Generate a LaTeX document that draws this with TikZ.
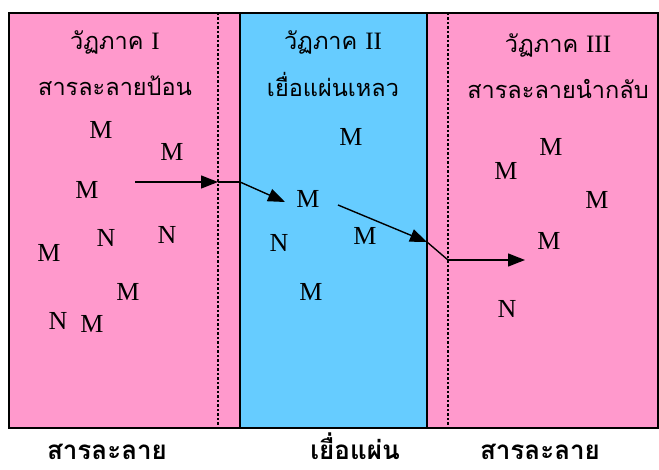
\documentclass[tikz,border=0pt]{standalone}
\usepackage{fontspec}
\setmainfont{Liberation Serif}
\newfontfamily\thaifont[Script=Thai]{Loma}
\newfontfamily\romanfont{Liberation Serif}
\usetikzlibrary{arrows.meta}
\definecolor{pinkfill}{HTML}{FF99CC}
\definecolor{bluefill}{HTML}{66CCFF}
\begin{document}
\begin{tikzpicture}[x=1pt,y=-1pt,
  letter/.style={font=\fontsize{26}{26}\selectfont, inner sep=0pt},
  title/.style={font=\thaifont\fontsize{23.5}{24}\selectfont, inner sep=0pt},
  bottom/.style={font=\thaifont\bfseries\fontsize{26}{28}\selectfont, inner sep=0pt, anchor=base},
  flow/.style={line width=1.4pt, -{Triangle[length=17pt,width=13pt]}},
  seg/.style={line width=1.4pt},
  divider/.style={line width=1.5pt},
  dots/.style={line width=1.4pt, dash pattern=on 2.5pt off 2pt}]
\useasboundingbox (0,0) rectangle (659,470);
\fill[pinkfill] (9,13) rectangle (658,428);
\fill[bluefill] (240,13) rectangle (427,428);
\draw[divider] (240,13) -- (240,428);
\draw[divider] (427,13) -- (427,428);
\draw[dots] (218,13) -- (218,428);
\draw[dots] (448,13) -- (448,428);
\draw[line width=1.5pt] (9,13) rectangle (658,428);
% titles
\node[title] (t1a) at (115,42) {วัฏภาค {\romanfont\fontsize{25}{25}\selectfont I}};
\node[title] (t1b) at (115,86) {สารละลายป้อน};
\node[title] (t2a) at (333,42) {วัฏภาค {\romanfont\fontsize{25}{25}\selectfont II}};
\node[title] (t2b) at (333,84) {เยื่อแผ่นเหลว};
\node[title] (t3a) at (558,45) {วัฏภาค {\romanfont\fontsize{25}{25}\selectfont III}};
\node[title] (t3b) at (558,89) {สารละลายนำกลับ};
% letters phase I
\node[letter] (a1) at (101,130) {M};
\node[letter] (a2) at (172,152) {M};
\node[letter] (a3) at (87,190) {M};
\node[letter] (a4) at (106,238) {N};
\node[letter] (a5) at (167,235) {N};
\node[letter] (a6) at (49,253) {M};
\node[letter] (a7) at (128,292) {M};
\node[letter] (a8) at (58,321) {N};
\node[letter] (a9) at (92,324) {M};
% phase II
\node[letter] (b1) at (351,137) {M};
\node[letter] (b2) at (308,199) {M};
\node[letter] (b3) at (279,243) {N};
\node[letter] (b4) at (365,236) {M};
\node[letter] (b5) at (311,292) {M};
% phase III
\node[letter] (c1) at (551,147) {M};
\node[letter] (c2) at (506,171) {M};
\node[letter] (c3) at (597,200) {M};
\node[letter] (c4) at (549,241) {M};
\node[letter] (c5) at (507,309) {N};
% path
\coordinate (p0) at (135,182);
\coordinate (p1) at (218,182);
\coordinate (p2) at (240,182);
\coordinate (p3) at (285,202);
\coordinate (p4) at (338,205);
\coordinate (p5) at (427,242);
\coordinate (p6) at (448,260);
\coordinate (p7) at (525,260);
\draw[flow] (p0) -- (p1);
\draw[seg] (p1) -- (p2);
\draw[flow] (p2) -- (p3);
\draw[flow] (p4) -- (p5);
\draw[seg] (p5) -- (p6);
\draw[flow] (p6) -- (p7);
% bottom labels
\node[bottom] (l1) at (107,459) {สารละลาย};
\node[bottom] (l2) at (355,459) {เยื่อแผ่น};
\node[bottom] (l3) at (540,459) {สารละลาย};
\end{tikzpicture}
\end{document}
